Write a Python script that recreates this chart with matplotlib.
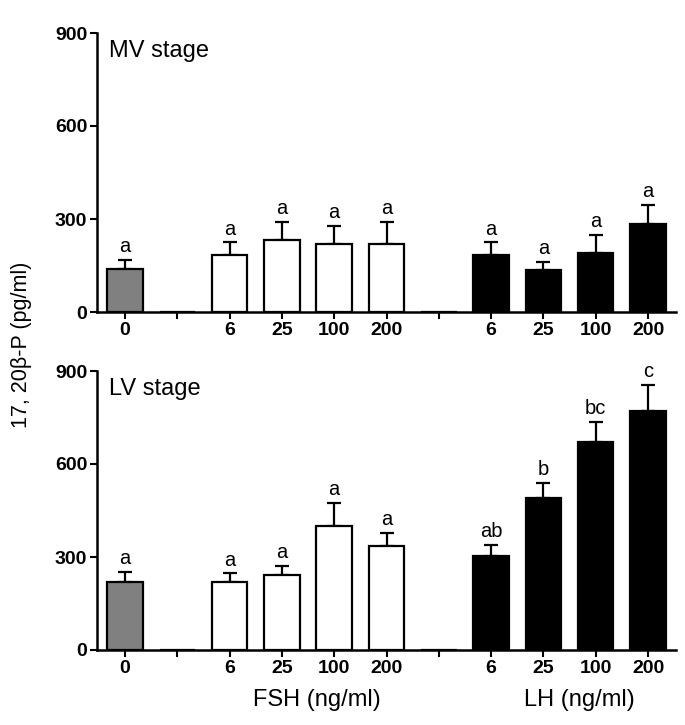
import matplotlib
matplotlib.use("Agg")
import matplotlib.pyplot as plt
import numpy as np

plt.rcParams['font.family'] = ['Liberation Sans', 'DejaVu Sans']

tick_labels = ["0", "", "6", "25", "100", "200", "", "6", "25", "100", "200"]
bar_colors = ["#808080", "white", "white", "white", "white", "white",
              "white", "black", "black", "black", "black"]

mv_means = [140, 0, 185, 232, 220, 220, 0, 185, 137, 190, 285]
mv_sem = [28, 0, 40, 58, 57, 70, 0, 40, 25, 60, 60]
mv_letters = ["a", "", "a", "a", "a", "a", "", "a", "a", "a", "a"]

lv_means = [220, 0, 220, 242, 400, 336, 0, 303, 490, 670, 770]
lv_sem = [33, 0, 27, 29, 75, 42, 0, 36, 50, 65, 85]
lv_letters = ["a", "", "a", "a", "a", "a", "", "ab", "b", "bc", "c"]

W, H = 685, 725
fig = plt.figure(figsize=(W / 100, H / 100), dpi=100)

def axrect(left, right, top, bottom):
    return [left / W, 1 - bottom / H, (right - left) / W, (bottom - top) / H]

ax1 = fig.add_axes(axrect(97, 676, 33, 312))
ax2 = fig.add_axes(axrect(97, 676, 371, 650))

x = np.arange(len(tick_labels))

def draw(ax, means, sem, letters, title):
    ax.bar(x, means, width=0.68, color=bar_colors, edgecolor="black",
           linewidth=1.6, zorder=2)
    for xi, m, s, lt in zip(x, means, sem, letters):
        if s > 0:
            ax.errorbar(xi, m, yerr=[[0], [s]], fmt="none", ecolor="black",
                        elinewidth=1.6, capsize=5, capthick=1.6, zorder=1)
        if lt:
            ax.text(xi, m + s + 12, lt, ha="center", va="bottom", fontsize=14.5)
    ax.set_xlim(-0.535, 10.535)
    ax.set_ylim(0, 900)
    ax.set_yticks([0, 300, 600, 900])
    ax.set_xticks(x)
    ax.set_xticklabels(tick_labels)
    for lab in ax.get_xticklabels() + ax.get_yticklabels():
        lab.set_fontweight("bold")
        lab.set_fontsize(14)
    ax.spines["top"].set_visible(False)
    ax.spines["right"].set_visible(False)
    for sp in ("left", "bottom"):
        ax.spines[sp].set_linewidth(1.8)
    ax.tick_params(axis="both", direction="out", length=5, width=1.5, pad=2)
    ax.text(0.02, 0.975, title, transform=ax.transAxes, ha="left", va="top",
            fontsize=17)

draw(ax1, mv_means, mv_sem, mv_letters, "MV stage")
draw(ax2, lv_means, lv_sem, lv_letters, "LV stage")

fig.text(317 / W, 1 - 700 / H, "FSH (ng/ml)", ha="center", va="center",
         fontsize=17)
fig.text(579 / W, 1 - 700 / H, "LH (ng/ml)", ha="center", va="center",
         fontsize=17)

fig.text(22 / W, 1 - 345 / H, "17, 20β-P (pg/ml)", rotation=90,
         ha="center", va="center", fontsize=15.5)

fig.savefig("out.png", dpi=100, facecolor="white")
